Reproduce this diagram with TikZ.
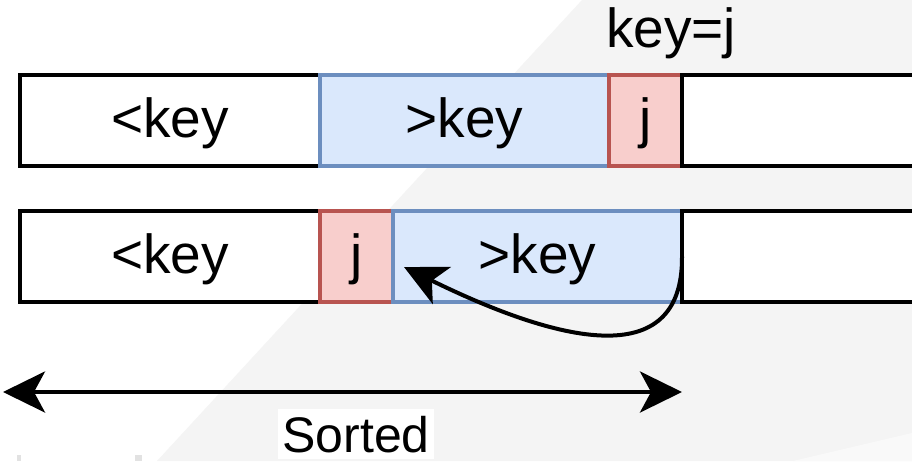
\documentclass[tikz,border=0pt]{standalone}
\usepackage{fontspec}
\setmainfont{Liberation Sans}
\usepackage{xcolor}
\usetikzlibrary{arrows.meta, positioning}

\definecolor{cellblue}{HTML}{DAE8FC}
\definecolor{lineblue}{HTML}{6C8EBF}
\definecolor{cellred}{HTML}{F8CECC}
\definecolor{linered}{HTML}{B85450}
\definecolor{backgray}{HTML}{F4F4F4}
\definecolor{markgray}{HTML}{E2E2E2}

\begin{document}
\begin{tikzpicture}[x=1pt, y=-1pt, node distance=0pt, >={Stealth[length=42pt, width=41pt, inset=11pt]}]
        % Styles for the cells of the array
        \tikzstyle{cell} = [rectangle, minimum height=91pt, inner sep=0pt, outer sep=0pt, line width=4pt, text centered, text height=40pt, text depth=6pt, draw=black, fill=white, font=\fontsize{55}{66}\selectfont]
        \tikzstyle{bigger} = [cell, line width=3.5pt, draw=lineblue, fill=cellblue]
        \tikzstyle{keycell} = [cell, line width=3.5pt, draw=linered, fill=cellred]
        \tikzstyle{caption} = [inner sep=0pt, anchor=base, font=\fontsize{55}{66}\selectfont]
        \tikzstyle{arrow} = [line width=4pt, ->]

        % Background
        \useasboundingbox (0,0) rectangle (912,461);
        \clip (0,0) rectangle (912,461);
        \fill[white] (0,0) rectangle (912,461);
        \fill[backgray] (582,0) -- (912,0) -- (912,461) -- (157,461) -- cycle;
        \fill[backgray!50] (793,461) -- (912,433) -- (912,461) -- cycle;
        \fill[markgray] (17,455) rectangle (21,461);
        \fill[markgray] (135,455) rectangle (142,461);

        % Row before the insertion
        \node (less1) [cell, minimum width=300pt, anchor=north west] at (20,75) {<key};
        \node (great1) [bigger, minimum width=289pt, right=of less1] {>key};
        \node (key1) [keycell, minimum width=73pt, right=of great1] {j};
        \node (rest1) [cell, minimum width=260pt, right=of key1] {};
        \node (keylabel) [caption] at (671,47) {key=j};

        % Row after the insertion
        \node (less2) [cell, minimum width=300pt, anchor=north west] at (20,211) {<key};
        \node (key2) [keycell, minimum width=73pt, right=of less2] {j};
        \node (great2) [bigger, minimum width=289pt, right=of key2] {>key};
        \node (rest2) [cell, minimum width=260pt, right=of great2] {};

        % Arrows
        \coordinate (moveend) at (404,267);
        \draw [arrow] (great2.east) .. controls (683,375) and (555,341) .. (moveend);
        \coordinate (sortleft) at (3,392);
        \coordinate (sortright) at (great2.east |- sortleft);
        \draw [arrow, <->] (sortleft) -- (sortright);
        \node (sorted) [caption, fill=white, inner xsep=4pt, inner ysep=7pt, font=\fontsize{50}{60}\selectfont] at (356,452) {Sorted};
\end{tikzpicture}
\end{document}
